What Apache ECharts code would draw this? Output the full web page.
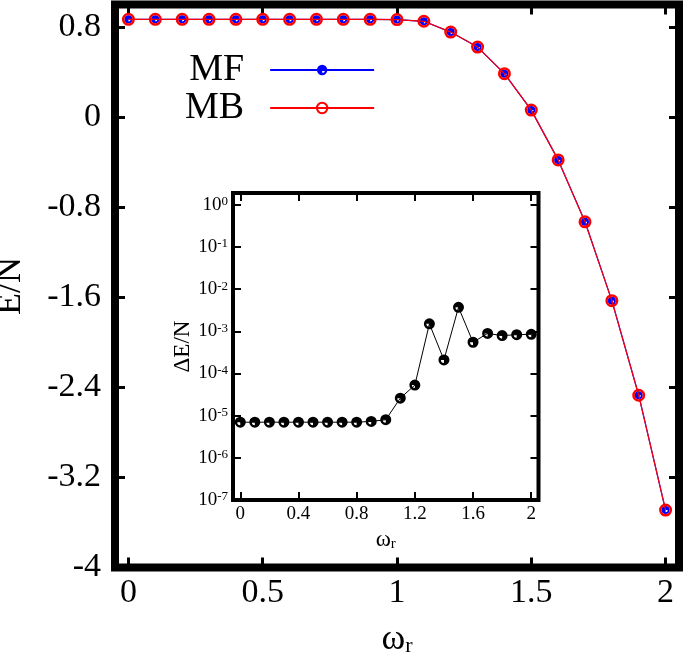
<!DOCTYPE html>
<html>
<head>
<meta charset="utf-8">
<script src="https://cdn.jsdelivr.net/npm/echarts@6/dist/echarts.min.js"></script>
<style>html,body{margin:0;padding:0;background:#fff}#c{width:685px;height:656px}</style>
</head>
<body>
<div id="c"></div>
<script>
// ---- data ----
const omega = [0, 0.1, 0.2, 0.3, 0.4, 0.5, 0.6, 0.7, 0.8, 0.9, 1.0, 1.1, 1.2, 1.3, 1.4, 1.5, 1.6, 1.7, 1.8, 1.9, 2.0];
const energyMF = [0.868, 0.868, 0.868, 0.868, 0.868, 0.868, 0.868, 0.868, 0.868, 0.868, 0.866, 0.851, 0.755, 0.622, 0.386, 0.062, -0.38, -0.93, -1.63, -2.47, -3.49];
const energyMB = [0.868, 0.868, 0.868, 0.868, 0.868, 0.868, 0.868, 0.868, 0.868, 0.868, 0.866, 0.851, 0.755, 0.622, 0.386, 0.062, -0.38, -0.93, -1.63, -2.47, -3.49];
const deltaE = [7.0e-6, 7.0e-6, 7.0e-6, 7.0e-6, 7.0e-6, 7.0e-6, 7.0e-6, 7.0e-6, 7.0e-6, 7.3e-6, 8.0e-6, 2.6e-5, 5.3e-5, 1.5e-3, 2.1e-4, 3.7e-3, 5.5e-4, 8.9e-4, 7.9e-4, 8.3e-4, 8.5e-4];
const seriesNames = ['MF', 'MB'];
const xMainTicks = [0, 0.5, 1, 1.5, 2];
const xInsetTicks = [0, 0.4, 0.8, 1.2, 1.6, 2];

const W = 685, H = 656;
const mainBox = { left: 115, right: 6, top: 4.5, bottom: 88.5 };
const insetBox = { left: 233, right: 146.5, top: 193, bottom: 156 };

const pair = (xs, ys) => xs.map((x, i) => [x, ys[i]]);
const serif = 'Liberation Serif';
const wedgeLL = 'path://M10 0A10 10 0 1 1 10 20A10 10 0 1 1 10 0ZM10 10L4.5 10A5.5 5.5 0 0 0 10 15.5Z';
const wedgeLR = 'path://M10 0A10 10 0 1 1 10 20A10 10 0 1 1 10 0ZM10 10L10 15.5A5.5 5.5 0 0 0 15.5 10Z';

const pickLabel = list => v => {
  const r = Math.round(v * 100) / 100;
  return list.some(t => Math.abs(t - r) < 1e-9) ? String(r) : '';
};
const frameRect = (b, lw, fill) => ({
  type: 'rect', z: -100, silent: true,
  shape: { x: b.left, y: b.top, width: W - b.left - b.right, height: H - b.top - b.bottom },
  style: { fill: fill, stroke: '#000', lineWidth: lw }
});

function ticks(b, customValues) {
  const t = { show: true, inside: true, length: b.tickLen, lineStyle: { color: '#000', width: b.tickW } };
  if (customValues) t.customValues = customValues;
  return t;
}
function frameAxis(b, extra) {
  return Object.assign({
    type: 'value',
    axisLine: { show: true, onZero: false, lineStyle: { color: '#000', width: 1 } },
    splitLine: { show: false },
    axisTick: ticks(b),
    axisLabel: { show: false }
  }, extra);
}
const mainA = { tickLen: 10, tickW: 3 };
const insetA = { tickLen: 8, tickW: 2 };

const chart = echarts.init(document.getElementById('c'));
const option = {
  animation: false,
  backgroundColor: '#fff',
  graphic: [frameRect(mainBox, 8, 'none'), frameRect(insetBox, 4, '#fff')],
  grid: [
    Object.assign({ outerBoundsMode: 'none', show: false }, mainBox),
    Object.assign({ outerBoundsMode: 'none', show: false }, insetBox)
  ],
  legend: {
    data: seriesNames,
    orient: 'vertical',
    align: 'right',
    left: 185,
    top: 51,
    padding: 0,
    itemGap: 0,
    itemWidth: 104,
    itemHeight: 13,
    selectedMode: false,
    textStyle: { fontFamily: serif, fontSize: 38, lineHeight: 38, color: '#000', padding: [0, 21, 0, 0] }
  },
  xAxis: [
    frameAxis(mainA, {
      gridIndex: 0, position: 'bottom', min: -0.05, max: 2.05, interval: 0.05,
      axisTick: ticks(mainA, xMainTicks),
      axisLabel: { show: true, interval: 0, formatter: pickLabel(xMainTicks), fontFamily: serif, fontSize: 34, color: '#000', margin: 9 },
      name: '{w|ω}{s|r}', nameLocation: 'middle', nameGap: 42,
      nameTextStyle: { color: '#000', rich: {
        w: { fontFamily: serif, fontSize: 36, color: '#000', verticalAlign: 'top', lineHeight: 36 },
        s: { fontFamily: serif, fontSize: 22, color: '#000', verticalAlign: 'bottom', lineHeight: 22, padding: [20, 0, 0, 0] } } }
    }),
    frameAxis(mainA, { gridIndex: 0, position: 'top', min: -0.05, max: 2.05, interval: 0.05, axisTick: ticks(mainA, xMainTicks) }),
    frameAxis(insetA, {
      gridIndex: 1, position: 'bottom', min: -0.05, max: 2.05, interval: 0.05,
      axisTick: ticks(insetA, xInsetTicks),
      axisLabel: { show: true, interval: 0, formatter: pickLabel(xInsetTicks), fontFamily: serif, fontSize: 19, color: '#000', margin: 5 },
      name: '{w|ω}{s|r}', nameLocation: 'middle', nameGap: 11,
      nameTextStyle: { color: '#000', rich: {
        w: { fontFamily: serif, fontSize: 23, color: '#000', verticalAlign: 'top', lineHeight: 23 },
        s: { fontFamily: serif, fontSize: 15, color: '#000', verticalAlign: 'bottom', lineHeight: 15, padding: [12, 0, 0, 0] } } }
    }),
    frameAxis(insetA, { gridIndex: 1, position: 'top', min: -0.05, max: 2.05, interval: 0.05, axisTick: ticks(insetA, xInsetTicks) })
  ],
  yAxis: [
    frameAxis(mainA, {
      gridIndex: 0, position: 'left', min: -4, max: 1, interval: 0.8,
      axisLabel: { show: true, showMaxLabel: false, fontFamily: serif, fontSize: 34, color: '#000', margin: 14,
        formatter: v => (v > 0.9 ? '' : String(Number(v.toFixed(1)))) },
      name: 'E/N', nameLocation: 'middle', nameRotate: 90, nameGap: 86,
      nameTextStyle: { fontFamily: serif, fontSize: 36, color: '#000' }
    }),
    frameAxis(mainA, { gridIndex: 0, position: 'right', min: -4, max: 1, interval: 0.8 }),
    frameAxis(insetA, {
      type: 'log', gridIndex: 1, position: 'left', min: 1e-7, max: 1.9, logBase: 10,
      axisLabel: { show: true, fontFamily: serif, fontSize: 19, color: '#000', margin: 5,
        formatter: v => {
          const e = Math.log10(v);
          return Math.abs(e - Math.round(e)) < 1e-6 ? '10{s|' + Math.round(e) + '}' : '';
        },
        rich: { s: { fontFamily: serif, fontSize: 13, color: '#000', verticalAlign: 'top', lineHeight: 13, padding: [0, 0, 8, 0] } } },
      name: 'ΔE/N', nameLocation: 'middle', nameRotate: 90, nameGap: 38,
      nameTextStyle: { fontFamily: serif, fontSize: 23, color: '#000' }
    }),
    frameAxis(insetA, { type: 'log', gridIndex: 1, position: 'right', min: 1e-7, max: 1.9, logBase: 10 })
  ],
  series: [
    {
      name: 'MF', type: 'line', xAxisIndex: 0, yAxisIndex: 0,
      data: pair(omega, energyMF),
      symbol: wedgeLR, symbolSize: 8,
      lineStyle: { color: '#0000ff', width: 1.2 },
      itemStyle: { color: '#0000ff' },
      z: 3
    },
    {
      name: 'MB', type: 'line', xAxisIndex: 0, yAxisIndex: 0,
      data: pair(omega, energyMB),
      symbol: 'circle', symbolSize: 10.5,
      lineStyle: { color: '#ff0000', width: 1.2 },
      itemStyle: { color: 'rgba(255,255,255,0)', borderColor: '#ff0000', borderWidth: 2.5 },
      z: 4
    },
    {
      name: 'dE', type: 'line', xAxisIndex: 2, yAxisIndex: 2,
      data: pair(omega, deltaE),
      symbol: wedgeLL, symbolSize: 11,
      lineStyle: { color: '#000', width: 1 },
      itemStyle: { color: '#000' },
      z: 5
    }
  ]
};
chart.setOption(option);
</script>
</body>
</html>
